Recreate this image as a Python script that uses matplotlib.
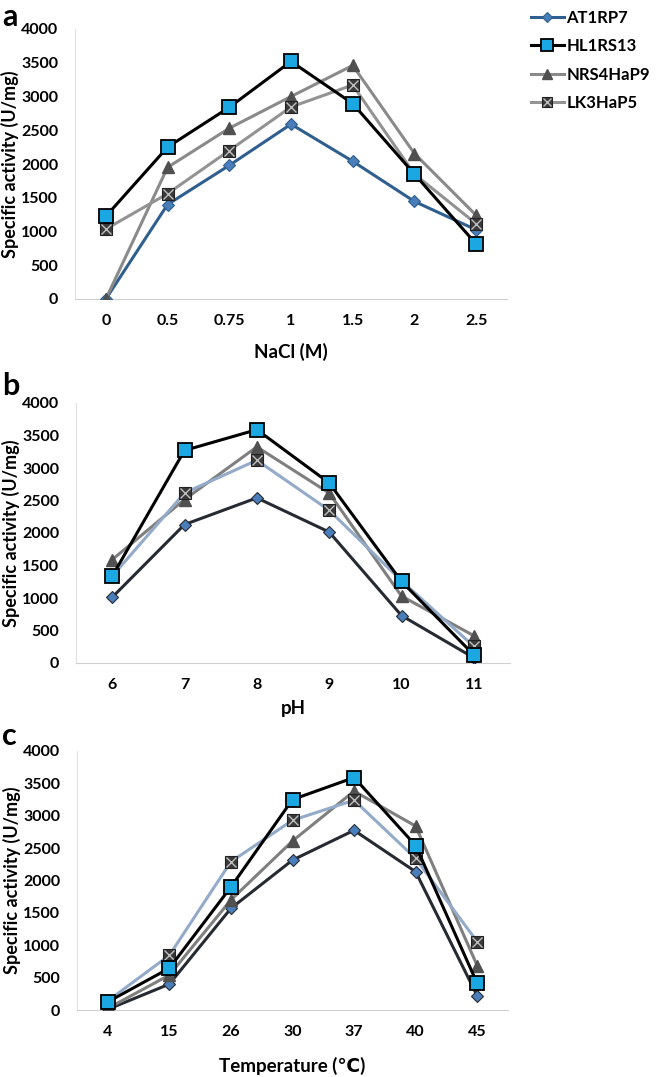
import matplotlib
matplotlib.use("Agg")
import matplotlib.pyplot as plt
from matplotlib import font_manager

# Calibri-like look: prefer a narrow face if there is one
installed = {f.name for f in font_manager.fontManager.ttflist}
NARROW = 'Liberation Sans Narrow' in installed
if NARROW:
    plt.rcParams['font.family'] = ['Liberation Sans Narrow', 'DejaVu Sans']
    TICK_FS, LAB_FS, YLAB_FS, LEG_FS = 11.5, 14, 13, 14
else:
    plt.rcParams['font.family'] = ['Lato', 'DejaVu Sans']
    TICK_FS, LAB_FS, YLAB_FS, LEG_FS = 11.5, 13.5, 13, 12
plt.rcParams['font.weight'] = 'bold'

strains = ["AT1RP7", "HL1RS13", "NRS4HaP9", "LK3HaP5"]

# panel a - NaCl
nacl_labels = ["0", "0.5", "0.75", "1", "1.5", "2", "2.5"]
nacl_at1rp7 = [0, 1400, 1980, 2590, 2040, 1445, 1025]
nacl_hl1rs13 = [1225, 2250, 2840, 3520, 2895, 1850, 815]
nacl_nrs4hap9 = [0, 1950, 2530, 3000, 3460, 2155, 1240]
nacl_lk3hap5 = [1035, 1560, 2200, 2845, 3170, 1850, 1115]

# panel b - pH
ph_labels = ["6", "7", "8", "9", "10", "11"]
ph_at1rp7 = [1010, 2130, 2540, 2015, 730, 80]
ph_hl1rs13 = [1335, 3270, 3590, 2770, 1255, 125]
ph_nrs4hap9 = [1590, 2515, 3325, 2615, 1030, 420]
ph_lk3hap5 = [1335, 2615, 3120, 2350, 1265, 255]

# panel c - temperature
temp_labels = ["4", "15", "26", "30", "37", "40", "45"]
temp_at1rp7 = [10, 400, 1570, 2315, 2775, 2135, 220]
temp_hl1rs13 = [125, 645, 1900, 3250, 3590, 2540, 410]
temp_nrs4hap9 = [25, 540, 1700, 2610, 3380, 2840, 685]
temp_lk3hap5 = [140, 845, 2290, 2930, 3240, 2340, 1055]

CYAN = '#1BA7E2'


def draw_panel(ax, labels, series, colors, xlabel):
    x = list(range(len(labels)))
    at, hl, nr, lk = series
    h1, = ax.plot(x, at, color=colors[0], lw=2.2, marker='D', ms=6.5,
                  mfc='#4A7EBB', mec=colors[0], mew=0.8, zorder=3)
    h2, = ax.plot(x, hl, color='black', lw=2.2, marker='s', ms=10.5,
                  mfc=CYAN, mec='black', mew=1.3, zorder=4)
    h3, = ax.plot(x, nr, color=colors[2], lw=2.2, marker='^', ms=8.5,
                  mfc='#505050', mec='#505050', zorder=3)
    h4, = ax.plot(x, lk, color=colors[3], lw=2.2, marker='s', ms=9,
                  mfc='#3a3a3a', mec='#222222', mew=0.8, zorder=3)
    h4x, = ax.plot(x, lk, ls='none', marker='x', ms=6.5, mec='#bdbdbd',
                   mew=1, zorder=3.5)
    ax.set_xlim(-0.5, len(labels) - 0.5)
    ax.set_ylim(0, 4000)
    ax.set_yticks(range(0, 4001, 500))
    ax.set_xticks(x)
    ax.set_xticklabels(labels)
    ax.tick_params(length=0, labelsize=TICK_FS, pad=11)
    ax.tick_params(axis='y', pad=12)
    for s in ['top', 'right']:
        ax.spines[s].set_visible(False)
    ax.spines['left'].set_color('#e0e0e0')
    ax.spines['bottom'].set_color('#d0d0d0')
    ax.set_ylabel("Specific activity (U/mg)", fontsize=YLAB_FS, fontweight='bold')
    ax.yaxis.set_label_coords(-0.13, 0.5)
    ax.set_xlabel(xlabel, fontsize=LAB_FS, fontweight='bold')
    return [h1, h2, h3, (h4, h4x)]


fig = plt.figure(figsize=(6.57, 10.77), dpi=100)
W, H = 657.0, 1077.0


def add_axes(left, right, top, bottom):
    return fig.add_axes([left / W, 1 - bottom / H, (right - left) / W, (bottom - top) / H])


ax_a = add_axes(75, 507, 29, 299)
ax_b = add_axes(76, 510, 403, 663)
ax_c = add_axes(77, 508, 751, 1010)

cols_a = ['#2F5F8F', 'black', '#8a8a8a', '#939393']
cols_bc = ['#262B33', 'black', '#7f7f7f', '#93AAC8']

handles = draw_panel(ax_a, nacl_labels, [nacl_at1rp7, nacl_hl1rs13, nacl_nrs4hap9, nacl_lk3hap5],
                     cols_a, "NaCl (M)")
draw_panel(ax_b, ph_labels, [ph_at1rp7, ph_hl1rs13, ph_nrs4hap9, ph_lk3hap5], cols_bc, "pH")
draw_panel(ax_c, temp_labels, [temp_at1rp7, temp_hl1rs13, temp_nrs4hap9, temp_lk3hap5],
           cols_bc, "Temperature (\u2103)")

ax_a.xaxis.set_label_coords(0.5, -0.163)
ax_b.xaxis.set_label_coords(0.5, -0.142)
ax_c.xaxis.set_label_coords(0.5, -0.18)

fig.legend(handles, strains, loc='upper left', bbox_to_anchor=(524 / W, 1 - 3 / H),
           frameon=False, fontsize=LEG_FS, handlelength=2.0, handletextpad=0.15,
           labelspacing=0.75, borderaxespad=0, markerscale=0.85)

fig.text(2 / W, 1 - 3 / H, "a", fontsize=22, fontweight='bold', va='top')
fig.text(2 / W, 1 - 372 / H, "b", fontsize=22, fontweight='bold', va='top')
fig.text(2 / W, 1 - 722 / H, "c", fontsize=22, fontweight='bold', va='top')

fig.savefig("out.png", dpi=100)
